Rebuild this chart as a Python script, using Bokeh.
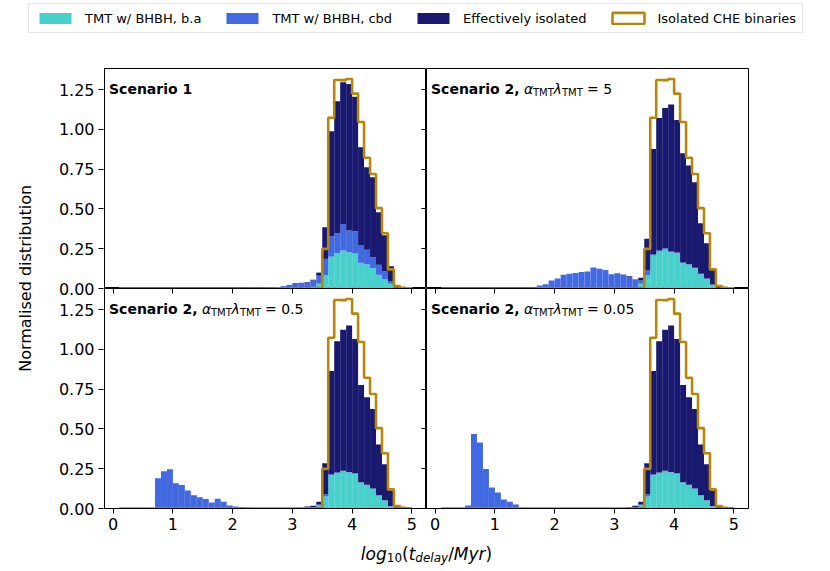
import numpy as np
from bokeh.plotting import figure
from bokeh.models import (ColumnDataSource, Range1d, FixedTicker, CustomJSTickFormatter,
                          Label, Legend, LegendItem, LinearAxis)
from bokeh.layouts import column, row, gridplot
from bokeh.core.properties import value
from bokeh.embed import file_html
from bokeh.resources import INLINE

# ---------------- data ----------------
# lower edges of the 0.1-dex bins in log10(t_delay/Myr): 0.1 ... 4.9 (49 bins)
bin_lo = np.round(np.arange(0.1, 4.95, 0.1), 1)
BIN_W = 0.1

series_labels = ["TMT w/ BHBH, b.a", "TMT w/ BHBH, cbd",
                 "Effectively isolated", "Isolated CHE binaries"]

x_ticks = [0, 1, 2, 3, 4, 5]
y_ticks = [0.0, 0.25, 0.5, 0.75, 1.0, 1.25]

# Isolated CHE binaries (step outline, same in every panel)
gold_che = [0, 0, 0, 0, 0, 0, 0, 0, 0, 0,
            0, 0, 0, 0, 0, 0, 0, 0, 0, 0,
            0, 0, 0, 0, 0, 0, 0, 0, 0, 0,
            0, 0, 0, 0.003, 0.249, 1.073, 1.311, 1.310, 1.317, 1.225,
            1.047, 0.822, 0.720, 0.505, 0.347, 0.120, 0.015, 0.004, 0.002]

# Scenario 1
s1_ba = [0, 0, 0, 0, 0, 0, 0, 0, 0, 0,
         0, 0, 0, 0, 0, 0, 0, 0, 0, 0,
         0, 0, 0, 0, 0, 0, 0, 0, 0, 0,
         0, 0.002, 0.010, 0.030, 0.082, 0.200, 0.222, 0.239, 0.228, 0.220,
         0.161, 0.151, 0.128, 0.086, 0.057, 0.030, 0.005, 0.001, 0]
s1_cbd = [0, 0, 0, 0, 0, 0, 0, 0, 0, 0,
          0, 0, 0, 0, 0, 0, 0, 0, 0, 0.002,
          0.002, 0.003, 0.005, 0.004, 0.004, 0.006, 0.009, 0.015, 0.023, 0.030,
          0.033, 0.034, 0.040, 0.050, 0.104, 0.129, 0.126, 0.167, 0.136, 0.140,
          0.113, 0.092, 0.067, 0.063, 0.050, 0.014, 0.005, 0.001, 0]
s1_iso = [0, 0, 0, 0, 0, 0, 0, 0, 0, 0,
          0, 0, 0, 0, 0, 0, 0, 0, 0, 0,
          0, 0, 0, 0, 0, 0, 0, 0, 0, 0.004,
          0.003, 0.004, 0.005, 0.020, 0.199, 0.659, 0.829, 0.890, 0.922, 0.846,
          0.614, 0.519, 0.504, 0.331, 0.228, 0.096, 0.005, 0.002, 0]

# Scenario 2, alpha*lambda = 5
s2_ba = [0, 0, 0, 0, 0, 0, 0, 0, 0, 0,
         0, 0, 0, 0, 0, 0, 0, 0, 0, 0,
         0, 0, 0, 0, 0, 0, 0, 0, 0, 0,
         0, 0.002, 0.005, 0.030, 0.082, 0.207, 0.232, 0.245, 0.228, 0.222,
         0.161, 0.151, 0.128, 0.090, 0.061, 0.023, 0.004, 0.001, 0]
s2_cbd = [0, 0, 0, 0, 0, 0, 0, 0, 0, 0,
          0, 0, 0, 0, 0.002, 0.005, 0.019, 0.027, 0.050, 0.063,
          0.086, 0.092, 0.098, 0.103, 0.107, 0.132, 0.124, 0.117, 0.090, 0.094,
          0.086, 0.070, 0.049, 0.020, 0.031, 0.007, 0.007, 0.008, 0.004, 0.004,
          0.003, 0.002, 0.002, 0.002, 0.002, 0.002, 0.001, 0, 0]
s2_iso = [0, 0, 0, 0, 0, 0, 0, 0, 0, 0,
          0, 0, 0, 0, 0, 0, 0, 0, 0, 0,
          0, 0, 0, 0, 0, 0, 0, 0, 0, 0.002,
          0.002, 0.005, 0.002, 0.018, 0.199, 0.663, 0.833, 0.882, 0.924, 0.834,
          0.686, 0.620, 0.538, 0.318, 0.222, 0.095, 0.007, 0.001, 0]

# Scenario 2, alpha*lambda = 0.5
s3_ba = [0, 0, 0, 0, 0, 0, 0, 0, 0, 0,
         0, 0, 0, 0, 0, 0, 0, 0, 0, 0,
         0, 0, 0, 0, 0, 0, 0, 0, 0, 0,
         0, 0, 0.003, 0.020, 0.075, 0.211, 0.222, 0.234, 0.226, 0.218,
         0.163, 0.147, 0.124, 0.082, 0.050, 0.013, 0.003, 0, 0]
s3_cbd = [0, 0, 0, 0, 0, 0.003, 0.190, 0.234, 0.247, 0.159,
          0.147, 0.113, 0.084, 0.071, 0.059, 0.038, 0.061, 0.042, 0.019, 0.013,
          0.010, 0.006, 0.003, 0.002, 0.001, 0.001, 0.001, 0.001, 0.001, 0.002,
          0.003, 0.008, 0.007, 0.005, 0.015, 0.004, 0.004, 0.004, 0.004, 0.003,
          0.002, 0.002, 0.002, 0.002, 0.002, 0.002, 0.001, 0, 0]
s3_iso = [0, 0, 0, 0, 0, 0, 0, 0, 0, 0,
          0, 0, 0, 0, 0, 0, 0, 0, 0, 0,
          0, 0, 0, 0, 0, 0, 0, 0, 0, 0,
          0.001, 0.004, 0.008, 0.017, 0.195, 0.650, 0.825, 0.886, 0.920, 0.845,
          0.612, 0.551, 0.500, 0.318, 0.226, 0.098, 0.006, 0.001, 0]

# Scenario 2, alpha*lambda = 0.05
s4_ba = [0, 0, 0, 0, 0, 0, 0, 0, 0, 0,
         0, 0, 0, 0, 0, 0, 0, 0, 0, 0,
         0, 0, 0, 0, 0, 0, 0, 0, 0, 0,
         0, 0, 0.003, 0.020, 0.075, 0.211, 0.222, 0.234, 0.226, 0.218,
         0.163, 0.147, 0.124, 0.082, 0.050, 0.013, 0.003, 0, 0]
s4_cbd = [0, 0, 0, 0, 0.019, 0.469, 0.415, 0.249, 0.132, 0.100,
          0.057, 0.042, 0.025, 0.004, 0.002, 0, 0, 0, 0, 0,
          0, 0, 0, 0, 0, 0, 0, 0, 0, 0,
          0.002, 0.006, 0.007, 0.005, 0.015, 0.004, 0.004, 0.004, 0.004, 0.003,
          0.002, 0.002, 0.002, 0.002, 0.002, 0.002, 0.001, 0, 0]
s4_iso = [0, 0, 0, 0, 0, 0, 0, 0, 0, 0,
          0, 0, 0, 0, 0, 0, 0, 0, 0, 0,
          0, 0, 0, 0, 0, 0, 0, 0, 0, 0,
          0.001, 0.004, 0.008, 0.017, 0.195, 0.650, 0.825, 0.886, 0.920, 0.845,
          0.612, 0.551, 0.500, 0.318, 0.226, 0.098, 0.006, 0.001, 0]

alpha_values = ["5", "0.5", "0.05"]

# ---------------- style ----------------
C_BA, C_CBD, C_ISO, C_CHE = "#48D1CC", "#4169E1", "#191970", "#B8860B"
FONT = "DejaVu Sans"
X_RANGE = (-0.145, 5.245)
Y_RANGE = (0.0, 1.383)
FW, FH = 322, 220
PX_X = FW / (X_RANGE[1] - X_RANGE[0])
PX_Y = FH / (Y_RANGE[1] - Y_RANGE[0])

LEG_H = 60          # legend strip height
TOP_B = 8           # border above the top panels
BOT_B = 30          # border below the bottom panels (tick labels)
YLAB_W = 43         # width of the y-title strip
STRIP_B = 60        # room for the y tick labels
XLAB_H = 30

centers = bin_lo + BIN_W / 2
edges = np.append(bin_lo, bin_lo[-1] + BIN_W)


def style_axis(ax):
    ax.major_label_text_font = FONT
    ax.major_label_text_font_size = "16px"
    ax.major_label_text_color = "black"
    ax.major_tick_out = 5
    ax.major_tick_in = 0
    ax.major_tick_line_color = "black"
    ax.minor_tick_line_color = None
    ax.major_label_standoff = 4


def inner_ticks(p, ticks, side):
    """tick marks of the neighbouring panel that point into this one"""
    ax = LinearAxis(ticker=FixedTicker(ticks=ticks),
                    formatter=CustomJSTickFormatter(code="return '';"),
                    major_tick_in=5, major_tick_out=0,
                    major_tick_line_color="black", minor_tick_line_color=None,
                    axis_line_color=None, major_label_standoff=0,
                    major_label_text_font_size="1px")
    p.add_layout(ax, side)


def scenario_pieces(alpha):
    if alpha is None:
        return [("Scenario 1", "14px", "bold", 0.0, 0.0)]
    return [("Scenario 2,", "14px", "bold", 0.0, 0.0),
            ("\u03b1", "14px", "italic", 93.0, 0.0),
            ("TMT", "10px", "normal", 102.0, -3.5),
            ("\u03bb", "14px", "italic", 122.5, 0.0),
            ("TMT", "10px", "normal", 131.0, -3.5),
            ("= " + alpha, "14px", "normal", 156.0, 0.0)]


def make_panel(ba, cbd, iso, alpha, show_x, right_col):
    p = figure(frame_width=FW, frame_height=FH,
               x_range=Range1d(*X_RANGE), y_range=Range1d(*Y_RANGE),
               x_axis_location="below" if show_x else None,
               y_axis_location=None,
               output_backend="svg", toolbar_location=None,
               min_border_left=0,
               min_border_right=10 if right_col else 0,
               min_border_top=0 if show_x else TOP_B,
               min_border_bottom=BOT_B if show_x else 0)
    p.grid.visible = False
    p.outline_line_color = "black"
    p.outline_line_width = 1
    p.outline_line_alpha = 1.0
    p.background_fill_color = "white"
    p.border_fill_color = "white"

    src = ColumnDataSource(dict(x=centers, ba=ba, cbd=cbd, iso=iso))
    p.vbar_stack(["ba", "cbd", "iso"], x="x", width=BIN_W,
                 fill_color=[C_BA, C_CBD, C_ISO], line_color=None, source=src)

    gx = np.repeat(edges, 2)
    gy = np.concatenate([[0.0], np.repeat(gold_che, 2), [0.0]])
    p.line(gx, gy, line_color=C_CHE, line_width=2.6)

    if show_x:
        p.xaxis.ticker = FixedTicker(ticks=x_ticks)
        style_axis(p.xaxis)
        p.xaxis.axis_line_color = "black"
        inner_ticks(p, x_ticks, "above")
    if not right_col:
        inner_ticks(p, y_ticks, "right")

    ax0 = X_RANGE[0] + 4.5 / PX_X
    ay0 = Y_RANGE[1] - 20 / PX_Y
    for text, size, style, dx, dy in scenario_pieces(alpha):
        p.add_layout(Label(x=ax0, y=ay0, x_offset=dx, y_offset=dy, text=text,
                           text_font=FONT, text_font_size=size,
                           text_font_style=style, text_color="black",
                           text_align="left", text_baseline="alphabetic"))
    return p


tl = make_panel(s1_ba, s1_cbd, s1_iso, None, show_x=False, right_col=False)
tr = make_panel(s2_ba, s2_cbd, s2_iso, alpha_values[0], show_x=False, right_col=True)
bl = make_panel(s3_ba, s3_cbd, s3_iso, alpha_values[1], show_x=True, right_col=False)
br = make_panel(s4_ba, s4_cbd, s4_iso, alpha_values[2], show_x=True, right_col=True)
grid = gridplot([[tl, tr], [bl, br]], toolbar_location=None)

GRID_H = TOP_B + FH + FH + BOT_B

# shared y axis for the two panel rows (bottom row 0..ymax, top row ymax..2*ymax)
strip = figure(frame_width=1, frame_height=2 * FH,
               x_range=Range1d(0, 1), y_range=Range1d(0, 2 * Y_RANGE[1]),
               x_axis_location=None, y_axis_location="left",
               output_backend="svg", toolbar_location=None,
               min_border_left=STRIP_B, min_border_right=0,
               min_border_top=TOP_B, min_border_bottom=BOT_B)
strip.grid.visible = False
strip.outline_line_color = None
strip.yaxis.ticker = FixedTicker(ticks=y_ticks + [Y_RANGE[1] + t for t in y_ticks])
strip.yaxis.formatter = CustomJSTickFormatter(
    args=dict(h=Y_RANGE[1]),
    code="const v = tick >= h - 1e-9 ? tick - h : tick; return v.toFixed(2);")
style_axis(strip.yaxis)
strip.yaxis.axis_line_color = None


def blank(width, height):
    f = figure(width=width, height=height, x_range=Range1d(0, width),
               y_range=Range1d(0, height), x_axis_location=None,
               y_axis_location=None, output_backend="svg",
               toolbar_location=None, min_border=0)
    f.grid.visible = False
    f.outline_line_color = None
    return f


# legend strip (dummy renderers carry the swatch styles; NaN = nothing drawn)
leg_fig = blank(820, LEG_H)
dummy = ColumnDataSource(dict(l=[np.nan], r=[np.nan], t=[np.nan], b=[np.nan]))
r_ba = leg_fig.quad(left="l", right="r", top="t", bottom="b", source=dummy,
                    fill_color=C_BA, line_color=None)
r_cbd = leg_fig.quad(left="l", right="r", top="t", bottom="b", source=dummy,
                     fill_color=C_CBD, line_color=None)
r_iso = leg_fig.quad(left="l", right="r", top="t", bottom="b", source=dummy,
                     fill_color=C_ISO, line_color=None)
r_che = leg_fig.quad(left="l", right="r", top="t", bottom="b", source=dummy,
                     fill_color=None, line_color=C_CHE, line_width=2.6)
legend = Legend(items=[LegendItem(label=series_labels[0], renderers=[r_ba]),
                       LegendItem(label=series_labels[1], renderers=[r_cbd]),
                       LegendItem(label=series_labels[2], renderers=[r_iso]),
                       LegendItem(label=series_labels[3], renderers=[r_che])],
                orientation="horizontal", location=(28, 27),
                glyph_width=40, glyph_height=14, label_standoff=10,
                spacing=21, padding=6, margin=0, label_height=16,
                label_text_font=FONT, label_text_font_size="13px",
                label_text_color="black", border_line_color="#cccccc",
                border_line_width=1, background_fill_color="white",
                background_fill_alpha=0.8)
leg_fig.add_layout(legend)

# y axis title
ylab = blank(YLAB_W, GRID_H)
ylab.text(x=[25], y=[GRID_H - (TOP_B + FH)], text=["Normalised distribution"],
          angle=np.pi / 2, text_align="center", text_baseline="middle",
          text_font=value(FONT), text_font_size="16px", text_color="black")

# x axis title, mathtext-like pieces
xlab = blank(820, XLAB_H)
x_pieces = [("log", 17, "italic", 25.9, 0), ("10", 12, "normal", 15.3, -4),
            ("(", 17, "normal", 6.6, 0), ("t", 17, "italic", 6.7, 0),
            ("delay", 12, "italic", 32.8, -4), ("/", 17, "normal", 5.7, 0),
            ("Myr", 17, "italic", 31.7, 0), (")", 17, "normal", 6.6, 0)]
total_w = sum(pc[3] for pc in x_pieces)
cx = YLAB_W + STRIP_B + 1 + FW
cur = cx - total_w / 2
for text, size, style, w, dy in x_pieces:
    xlab.text(x=[cur], y=[15 + dy], text=[text], text_align="left",
              text_baseline="alphabetic", text_font=value(FONT),
              text_font_size=f"{size}px", text_font_style=style,
              text_color="black")
    cur += w

layout = column(leg_fig, row(ylab, strip, grid), xlab)
open("out.html", "w").write(file_html(layout, INLINE))
